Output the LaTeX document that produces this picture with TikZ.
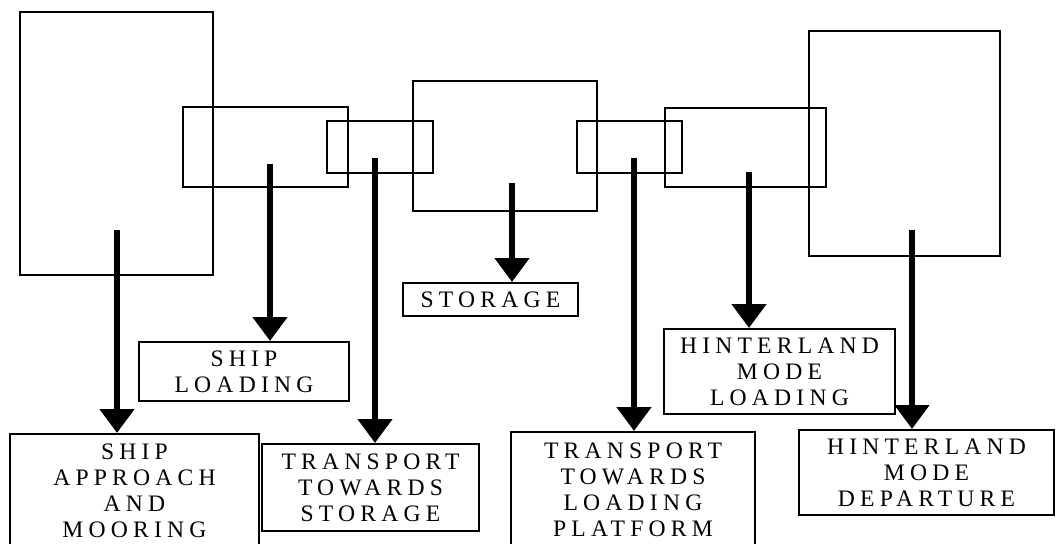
\documentclass[tikz,border=0pt]{standalone}
\usepackage{fontspec}
\setmainfont{Liberation Serif}
\newfontfamily\spacedfont[LetterSpace=22]{Liberation Serif}
\newcommand\stagefont{\spacedfont\fontsize{16.8pt}{18.6pt}\selectfont}
\usetikzlibrary{arrows.meta}
\tikzset{
    area/.style={line width=1.4pt},
    stage/.style={draw, line width=1.5pt, fill=white, align=center, inner sep=0pt, font=\stagefont},
    flow/.style={line width=3.9pt, -{Triangle[width=24pt,length=17pt]}}
}
\begin{document}
\begin{tikzpicture}[x=0.025cm, y=-0.025cm]
    \useasboundingbox (0,0) rectangle (1056,544);
    % terminal areas
    \draw[area] (20,12) rectangle (213,275);
    \draw[area] (183,107) rectangle (348,187);
    \draw[area] (327,121) rectangle (433,173);
    \draw[area] (413,81) rectangle (597,211);
    \draw[area] (577,121) rectangle (682,173);
    \draw[area] (665,108) rectangle (826,187);
    \draw[area] (809,31) rectangle (1000,256);
    % arrow starts
    \coordinate (a1) at (117,230);
    \coordinate (a2) at (270,164);
    \coordinate (a3) at (375,158);
    \coordinate (a4) at (512,183);
    \coordinate (a5) at (634,158);
    \coordinate (a6) at (749,172);
    \coordinate (a7) at (912,230);
    % stages
    \node[stage, minimum width=6.225cm, minimum height=2.85cm] (approach) at (134.5,491) {SHIP\\APPROACH\\AND\\MOORING};
    \node[stage, minimum width=5.25cm, minimum height=1.475cm] (shiploading) at (244,371.5) {SHIP\\LOADING};
    \node[stage, minimum width=5.425cm, minimum height=2.175cm] (tostorage) at (370.5,487.5) {TRANSPORT\\TOWARDS\\STORAGE};
    \node[stage, minimum width=4.375cm, minimum height=0.825cm] (storage) at (490.5,299.5) {STORAGE};
    \node[stage, minimum width=6.1cm, minimum height=2.9cm] (toplatform) at (633,490) {TRANSPORT\\TOWARDS\\LOADING\\PLATFORM};
    \node[stage, minimum width=5.775cm, minimum height=2.125cm] (hinterloading) at (779.5,371.5) {HINTERLAND\\MODE\\LOADING};
    \node[stage, minimum width=6.375cm, minimum height=2.125cm] (departure) at (926.5,472.5) {HINTERLAND\\MODE\\DEPARTURE};
    % flows
    \draw[flow] (a1) -- (a1 |- approach.north);
    \draw[flow] (a2) -- (a2 |- shiploading.north);
    \draw[flow] (a3) -- (a3 |- tostorage.north);
    \draw[flow] (a4) -- (a4 |- storage.north);
    \draw[flow] (a5) -- (a5 |- toplatform.north);
    \draw[flow] (a6) -- (a6 |- hinterloading.north);
    \draw[flow] (a7) -- (a7 |- departure.north);
\end{tikzpicture}
\end{document}
